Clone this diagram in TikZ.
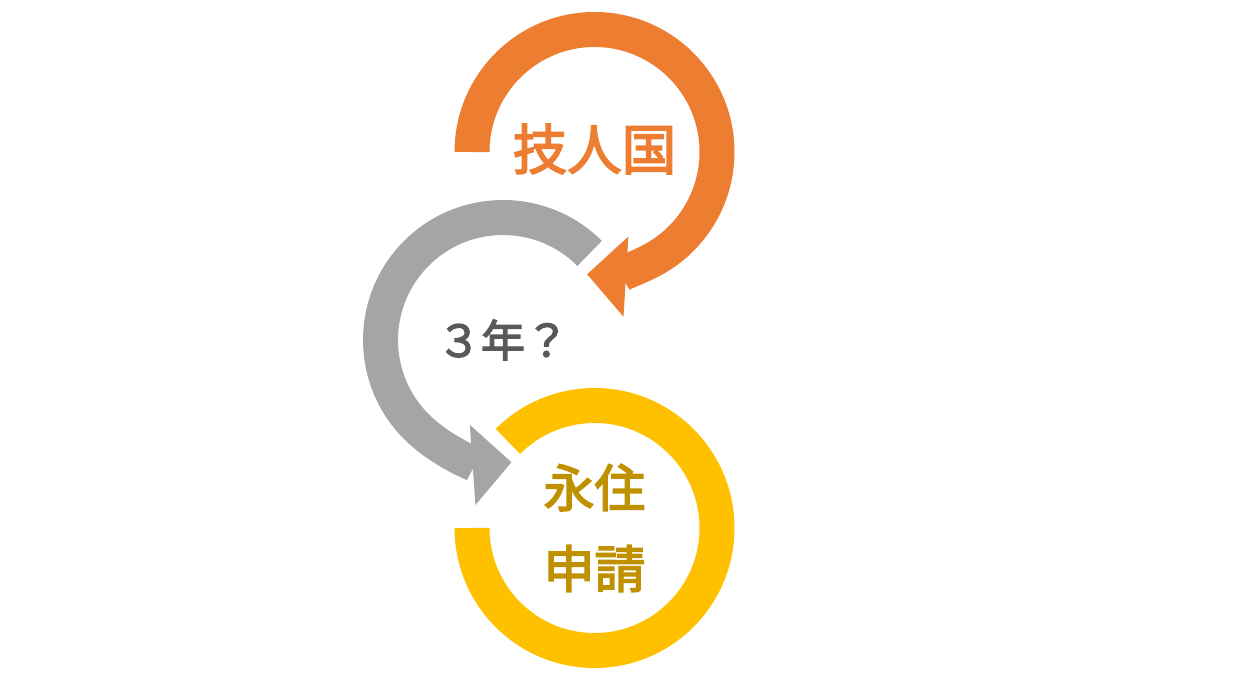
\documentclass[tikz,border=0pt]{standalone}
\usepackage{fontspec}
\newfontfamily\cjk{Noto Sans CJK JP}[BoldFont={Noto Sans CJK JP},BoldFeatures={FakeBold=3}]
\usetikzlibrary{arrows.meta}
\definecolor{ringorange}{HTML}{ED7D31}
\definecolor{ringgray}{HTML}{A5A5A5}
\definecolor{ringyellow}{HTML}{FFC000}
\definecolor{textgold}{HTML}{BF9000}
\definecolor{textgray}{HTML}{595959}

\begin{document}
\begin{tikzpicture}[ring/.style={line width=0.7cm},
  arrowtip/.style={-{Triangle[width=1.56cm,length=0.78cm]}}]
\useasboundingbox (0,0) rectangle (24.82,13.56);
\coordinate (C1) at (11.89,10.52);
\coordinate (C2) at (10.06,6.76);
\coordinate (C3) at (11.89,3.00);
\draw[ring,arrowtip,ringorange] ([shift={(180:2.45)}]C1) arc[start angle=180,end angle=-93.5,radius=2.45];
\draw[ring,arrowtip,ringgray] ([shift={(45:2.45)}]C2) arc[start angle=45,end angle=274,radius=2.45];
\draw[ring,ringyellow] ([shift={(180:2.45)}]C3) arc[start angle=180,end angle=495,radius=2.45];
\node[text=ringorange,font=\cjk\bfseries\fontsize{31}{37}\selectfont] (Tech) at ([yshift=0.06cm]C1) {技人国};
\node[text=textgray,font=\cjk\bfseries\fontsize{25}{30}\selectfont] (Years) at (C2) {３年？};
\node[text=textgold,align=center,font=\cjk\bfseries\fontsize{29}{46}\selectfont] (PR) at (C3) {永住\\申請};
\end{tikzpicture}
\end{document}
